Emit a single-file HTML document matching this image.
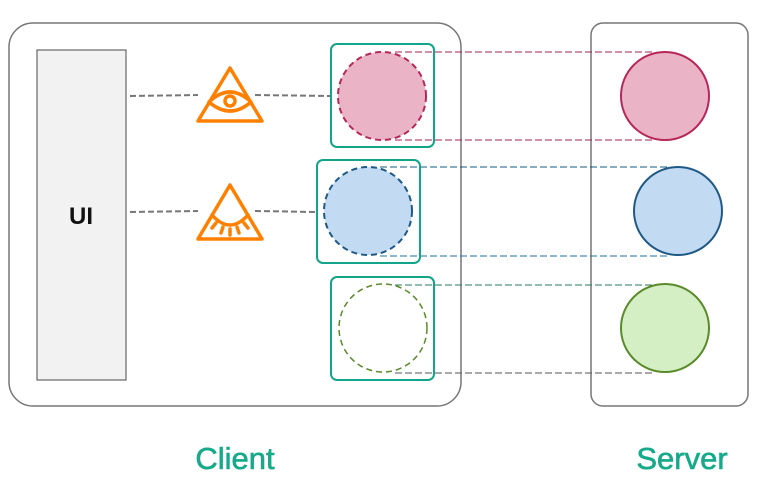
<!DOCTYPE html>
<html><head><style>body{margin:0;background:#fff}svg{display:block}</style></head><body>
<svg width="762" height="495" viewBox="0 0 762 495" xmlns="http://www.w3.org/2000/svg" font-family="Liberation Sans, sans-serif">
<rect x="9" y="23" width="452" height="383" rx="24" fill="#fff" stroke="#777" stroke-width="1.5"/>
<rect x="591" y="23" width="157" height="383" rx="12" fill="#fff" stroke="#777" stroke-width="1.5"/>
<rect x="37" y="50" width="89" height="330" fill="#f2f2f2" stroke="#666" stroke-width="1.2"/>
<text x="81" y="224" font-size="24" font-weight="bold" text-anchor="middle" fill="#111">UI</text>
<g stroke="#777" stroke-width="2" stroke-dasharray="6,3" fill="none">
<path d="M130 96 L198 95"/><path d="M255 95 L331 96"/>
<path d="M130 212 L198 211"/><path d="M255 211 L317 212"/>
</g>
<g fill="none" stroke-width="1" stroke-dasharray="7,3">
<path d="M395 52 L655 52" stroke="#a02050"/><path d="M395 140 L655 140" stroke="#a02050"/>
<path d="M380 167 L670 167" stroke="#155a80"/><path d="M380 256 L670 256" stroke="#1a70a5"/>
<path d="M395 285 L655 285" stroke="#257a5a"/><path d="M395 373 L655 373" stroke="#555"/>
</g>
<g stroke="#ff8000" stroke-width="3.5" fill="none" stroke-linejoin="round" stroke-linecap="round">
<path d="M230 68 L262 121 L198 121 Z"/>
<path d="M209 102 Q230 82 251 102 Q230 120 209 102 Z"/>
<circle cx="230" cy="101" r="5"/>
<path d="M230 185 L262 239 L198 239 Z"/>
<path d="M212 215 Q230 235 248 215"/>
<path d="M216 223 L212 228 M223 227 L221 233 M230 229 L230 235 M237 227 L239 233 M244 223 L248 228"/>
</g>
<g fill="none" stroke="#13a58a" stroke-width="2">
<rect x="331" y="44" width="103" height="103" rx="6"/>
<rect x="317" y="160" width="103" height="103" rx="6"/>
<rect x="331" y="277" width="103" height="103" rx="6"/>
</g>
<circle cx="382" cy="96" r="44" fill="#eab4c6" stroke="#b8275a" stroke-width="2" stroke-dasharray="6,4"/>
<circle cx="368" cy="211" r="44" fill="#c2daf2" stroke="#1f5a87" stroke-width="2" stroke-dasharray="6,4"/>
<circle cx="383" cy="328" r="44" fill="#fff" stroke="#5b8a2a" stroke-width="1.5" stroke-dasharray="6,4"/>
<circle cx="665" cy="96" r="44" fill="#eab4c6" stroke="#b8275a" stroke-width="2"/>
<circle cx="678" cy="211" r="44" fill="#c2daf2" stroke="#1f5a87" stroke-width="2"/>
<circle cx="665" cy="328" r="44" fill="#d4efc4" stroke="#5b8a2a" stroke-width="2"/>
<text x="235" y="469" font-size="31" text-anchor="middle" fill="#15aa8a" stroke="#15aa8a" stroke-width="0.6">Client</text>
<text x="682" y="469" font-size="31" text-anchor="middle" fill="#15aa8a" stroke="#15aa8a" stroke-width="0.6">Server</text>
</svg>
</body></html>
